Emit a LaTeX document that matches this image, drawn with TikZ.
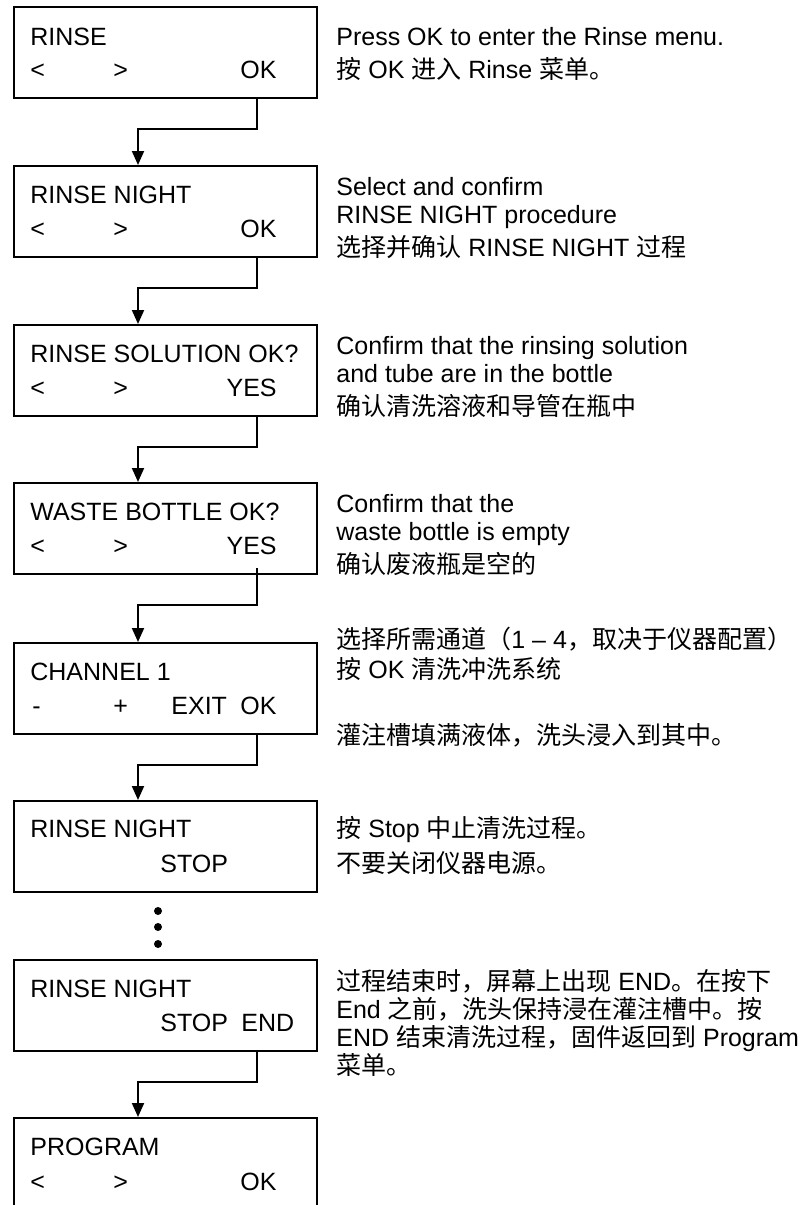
\documentclass[tikz,border=0pt]{standalone}
\usepackage{fontspec}
\setmainfont{Liberation Sans}
\newfontfamily\cjk{Noto Sans CJK SC}
\usetikzlibrary{arrows.meta,calc}
\newcommand{\zh}[1]{{\cjk #1}}

\tikzset{
  lcd/.style={draw, line width=1pt, minimum width=151.5pt, minimum height=45.5pt,
    inner sep=0pt, anchor=north west},
  lbl/.style={anchor=base west, inner sep=0pt, font=\fontsize{12.5}{14}\selectfont},
  lblr/.style={lbl, anchor=base east},
  flow/.style={line width=1pt, -{Triangle[width=6pt,length=7pt]}},
}

\begin{document}
\begin{tikzpicture}[x=0.5pt, y=-0.5pt]
  \useasboundingbox (0,0) rectangle (800,1205);

  % display boxes
  \node[lcd] (rinse) at (13,6) {};
  \node[lcd] (night) at (13,165) {};
  \node[lcd] (solution) at (13,324) {};
  \node[lcd] (waste) at (13,482) {};
  \node[lcd] (channel) at (13,642) {};
  \node[lcd] (stop) at (13,800) {};
  \node[lcd] (done) at (13,959) {};
  \node[lcd, minimum height=60pt] (program) at (13,1117) {};

  % display texts
  \node[lbl] (rinse-a) at (30,45) {RINSE};
  \node[lbl] (rinse-l) at (30,78) {<};
  \node[lbl] (rinse-r) at (113,78) {>};
  \node[lblr] (rinse-ok) at (277,78) {OK};

  \node[lbl] (night-a) at (30,203) {RINSE NIGHT};
  \node[lbl] (night-l) at (30,237) {<};
  \node[lbl] (night-r) at (113,237) {>};
  \node[lblr] (night-ok) at (277,237) {OK};

  \node[lbl] (solution-a) at (30,362) {RINSE SOLUTION OK?};
  \node[lbl] (solution-l) at (30,396) {<};
  \node[lbl] (solution-r) at (113,396) {>};
  \node[lblr] (solution-yes) at (277,396) {YES};

  \node[lbl] (waste-a) at (30,520) {WASTE BOTTLE OK?};
  \node[lbl] (waste-l) at (30,554) {<};
  \node[lbl] (waste-r) at (113,554) {>};
  \node[lblr] (waste-yes) at (277,554) {YES};

  \node[lbl] (channel-a) at (30,680) {CHANNEL 1};
  \node[lbl] (channel-m) at (32,714) {-};
  \node[lbl] (channel-p) at (113,714) {+};
  \node[lbl] (channel-exit) at (171,714) {EXIT};
  \node[lblr] (channel-ok) at (277,714) {OK};

  \node[lbl] (stop-a) at (30,837) {RINSE NIGHT};
  \node[lbl] (stop-s) at (160,872) {STOP};

  \node[lbl] (done-a) at (30,997) {RINSE NIGHT};
  \node[lbl] (done-s) at (160,1031) {STOP};
  \node[lbl] (done-e) at (241,1031) {END};

  \node[lbl] (program-a) at (30,1155) {PROGRAM};
  \node[lbl] (program-l) at (30,1190) {<};
  \node[lbl] (program-r) at (113,1190) {>};
  \node[lblr] (program-ok) at (277,1190) {OK};

  % notes
  \node[lbl] (n1a) at (336,45) {Press OK to enter the Rinse menu.};
  \node[lbl] (n1b) at (336,78) {\zh{按} OK \zh{进入} Rinse \zh{菜单。}};

  \node[lbl] (n2a) at (336,195) {Select and confirm};
  \node[lbl] (n2b) at (336,223) {RINSE NIGHT procedure};
  \node[lbl] (n2c) at (336,256) {\zh{选择并确认} RINSE NIGHT \zh{过程}};

  \node[lbl] (n3a) at (336,354) {Confirm that the rinsing solution};
  \node[lbl] (n3b) at (336,382) {and tube are in the bottle};
  \node[lbl] (n3c) at (336,415) {\zh{确认清洗溶液和导管在瓶中}};

  \node[lbl] (n4a) at (336,512) {Confirm that the};
  \node[lbl] (n4b) at (336,540) {waste bottle is empty};
  \node[lbl] (n4c) at (336,573) {\zh{确认废液瓶是空的}};

  \node[lbl] (n5a) at (336,648) {\zh{选择所需通道（}1 – 4\zh{，取决于仪器配置）}};
  \node[lbl] (n5b) at (336,678) {\zh{按} OK \zh{清洗冲洗系统}};
  \node[lbl] (n5c) at (336,744) {\zh{灌注槽填满液体，洗头浸入到其中。}};

  \node[lbl] (n6a) at (336,837) {\zh{按} Stop \zh{中止清洗过程。}};
  \node[lbl] (n6b) at (336,872) {\zh{不要关闭仪器电源。}};

  \node[lbl] (n7a) at (336,990) {\zh{过程结束时，屏幕上出现} END\zh{。在按下}};
  \node[lbl] (n7b) at (336,1018) {End \zh{之前，洗头保持浸在灌注槽中。按}};
  \node[lbl] (n7c) at (336,1046) {END \zh{结束清洗过程，固件返回到} Program};
  \node[lbl] (n7d) at (336,1074) {\zh{菜单。}};

  % connectors
  \draw[flow] ($(rinse.south east)+(-61,0)$) -- ++(0,30) -| ($(night.north west)+(125,0)$);
  \draw[flow] ($(night.south east)+(-61,0)$) -- ++(0,30) -| ($(solution.north west)+(125,0)$);
  \draw[flow] ($(solution.south east)+(-61,0)$) -- ++(0,30) -| ($(waste.north west)+(125,0)$);
  \draw[flow] ($(waste.south east)+(-61,-7)$) -- ++(0,37) -| ($(channel.north west)+(125,0)$);
  \draw[flow] ($(channel.south east)+(-61,0)$) -- ++(0,30) -| ($(stop.north west)+(125,0)$);
  \draw[flow] ($(done.south east)+(-61,0)$) -- ++(0,30) -| ($(program.north west)+(125,0)$);

  % continuation dots
  \foreach \y in {911,927,944}
    \fill (158,\y) circle[radius=2pt];
\end{tikzpicture}
\end{document}
